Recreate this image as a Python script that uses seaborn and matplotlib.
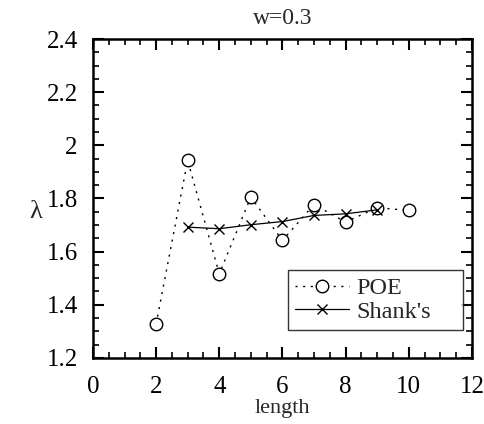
import matplotlib
matplotlib.use("Agg")
import matplotlib.pyplot as plt
import seaborn as sns
import pandas as pd
from matplotlib.ticker import MultipleLocator, FuncFormatter

# Series values
poe_length = [2, 3, 4, 5, 6, 7, 8, 9, 10]
poe_lambda = [1.327, 1.943, 1.516, 1.805, 1.642, 1.777, 1.711, 1.765, 1.755]
shank_length = [3, 4, 5, 6, 7, 8, 9]
shank_lambda = [1.692, 1.686, 1.701, 1.713, 1.736, 1.742, 1.757]

sns.set_style("ticks")
plt.rcParams["font.family"] = ["Liberation Serif", "DejaVu Serif"]

fig = plt.figure(figsize=(4.84, 4.24), dpi=100)
ax = fig.add_axes([0.192, 0.156, 0.783, 0.752])

poe = pd.DataFrame({"length": poe_length, "lam": poe_lambda})
shank = pd.DataFrame({"length": shank_length, "lam": shank_lambda})

sns.lineplot(data=poe, x="length", y="lam", ax=ax, color="black",
             linestyle=(0, (1.5, 4)), linewidth=1.0, marker="o",
             markersize=9, markerfacecolor="white", markeredgecolor="black",
             markeredgewidth=1.0, label="POE")
sns.lineplot(data=shank, x="length", y="lam", ax=ax, color="black",
             linestyle="-", linewidth=0.9, marker="x", markersize=6.5,
             markeredgecolor="black", markeredgewidth=1.0, label="Shank's")

ax.set_xlim(0, 12)
ax.set_ylim(1.2, 2.4)
ax.xaxis.set_major_locator(MultipleLocator(2))
ax.xaxis.set_minor_locator(MultipleLocator(0.5))
ax.yaxis.set_major_locator(MultipleLocator(0.2))
ax.yaxis.set_minor_locator(MultipleLocator(0.05))
ax.yaxis.set_major_formatter(FuncFormatter(
    lambda v, p: "2" if abs(v - 2) < 1e-9 else f"{v:.1f}"))

ax.tick_params(which="both", direction="in", top=True, right=True,
               colors="black", labelsize=18)
ax.tick_params(which="major", length=8, width=1.5)
ax.tick_params(which="minor", length=4, width=1.2)
ax.tick_params(axis="x", pad=13)
ax.tick_params(axis="y", pad=11)
for s in ax.spines.values():
    s.set_linewidth(1.8)
    s.set_color("black")

ax.set_xlabel("length", fontsize=16, labelpad=1)
ax.set_ylabel("λ", fontsize=19, rotation=0, va="center", ha="center")
ax.yaxis.set_label_coords(-0.150, 0.458)
ax.set_title("w=0.3", fontsize=17, pad=11)

leg = ax.legend(loc="lower left", bbox_to_anchor=(0.515, 0.088, 0.461, 0.2),
                mode="expand", fontsize=17.5, frameon=True, fancybox=False,
                handlelength=2.2, handletextpad=0.3, borderpad=0.3,
                labelspacing=0.05, borderaxespad=0)
leg.get_frame().set_edgecolor("black")
leg.get_frame().set_linewidth(1.0)

fig.savefig("out.png", dpi=100)
